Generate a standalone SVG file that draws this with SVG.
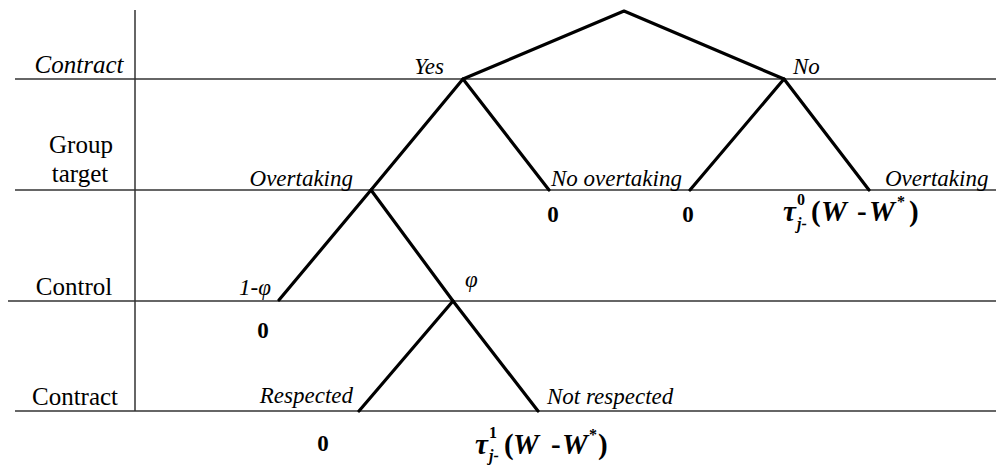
<svg xmlns="http://www.w3.org/2000/svg" width="996" height="465" viewBox="0 0 996 465" font-family="Liberation Serif, serif" style="font-family:'Liberation Serif',serif">
<rect width="996" height="465" fill="#fff"/>
<g id="grid" stroke="#333" stroke-width="1.5" fill="none">
<line x1="135" y1="10" x2="135" y2="411"/>
<line x1="15" y1="79" x2="996" y2="79"/>
<line x1="15" y1="190" x2="996" y2="190"/>
<line x1="8" y1="301" x2="996" y2="301"/>
<line x1="15" y1="411" x2="996" y2="411"/>
</g>
<g id="row-labels">
<text style="font-family:'Liberation Serif',serif !important" font-style="italic" font-size="25" text-anchor="middle" x="79" y="73">Contract</text>
<text style="font-family:'Liberation Serif',serif !important" font-size="25" text-anchor="middle" x="81" y="153">Group</text>
<text style="font-family:'Liberation Serif',serif !important" font-size="25" text-anchor="middle" x="80" y="182">target</text>
<text style="font-family:'Liberation Serif',serif !important" font-size="25" text-anchor="middle" x="74" y="295">Control</text>
<text style="font-family:'Liberation Serif',serif !important" font-size="25" text-anchor="middle" x="75" y="405">Contract</text>
</g>
<g id="node-yes"><text style="font-family:'Liberation Serif',serif !important" font-style="italic" font-size="23" text-anchor="end" x="444" y="74">Yes</text></g>
<g id="node-no"><text style="font-family:'Liberation Serif',serif !important" font-style="italic" font-size="23" x="793" y="74">No</text></g>
<g id="node-overtaking-yes"><text style="font-family:'Liberation Serif',serif !important" font-style="italic" font-size="23" text-anchor="end" x="353" y="186">Overtaking</text></g>
<g id="node-no-overtaking">
<text style="font-family:'Liberation Serif',serif !important" font-style="italic" font-size="23" x="551" y="186">No overtaking</text>
<text style="font-family:'Liberation Serif',serif !important" font-weight="bold" font-size="23" text-anchor="middle" x="553" y="222">0</text>
</g>
<g id="node-no-no-overtaking"><text style="font-family:'Liberation Serif',serif !important" font-weight="bold" font-size="23" text-anchor="middle" x="688" y="222">0</text></g>
<g id="node-overtaking-no">
<text style="font-family:'Liberation Serif',serif !important" font-style="italic" font-size="23" x="885" y="186">Overtaking</text>
<text style="font-family:'Liberation Serif',serif !important" font-weight="bold" font-size="29" y="221"><tspan x="783" font-style="italic">τ</tspan><tspan font-size="16" x="797" y="205">0</tspan><tspan font-size="16" x="797" y="229" font-style="italic">j-</tspan><tspan x="811" y="221">(</tspan><tspan x="821" font-style="italic">W</tspan><tspan x="857">-</tspan><tspan x="869" font-style="italic">W</tspan><tspan font-size="16" x="897" y="207">*</tspan><tspan x="909" y="221">)</tspan></text>
</g>
<g id="node-1-phi">
<text style="font-family:'Liberation Serif',serif !important" font-style="italic" font-size="23" text-anchor="end" x="271" y="295">1-φ</text>
<text style="font-family:'Liberation Serif',serif !important" font-weight="bold" font-size="23" text-anchor="middle" x="263" y="338">0</text>
</g>
<g id="node-phi"><text style="font-family:'Liberation Serif',serif !important" font-style="italic" font-size="23" x="465" y="287">φ</text></g>
<g id="node-respected">
<text style="font-family:'Liberation Serif',serif !important" font-style="italic" font-size="23" text-anchor="end" x="353" y="403">Respected</text>
<text style="font-family:'Liberation Serif',serif !important" font-weight="bold" font-size="23" text-anchor="middle" x="323" y="451">0</text>
</g>
<g id="node-not-respected">
<text style="font-family:'Liberation Serif',serif !important" font-style="italic" font-size="23" x="547" y="404">Not respected</text>
<text style="font-family:'Liberation Serif',serif !important" font-weight="bold" font-size="29" y="454"><tspan x="475" font-style="italic">τ</tspan><tspan font-size="16" x="489" y="438">1</tspan><tspan font-size="16" x="489" y="461" font-style="italic">j-</tspan><tspan x="504" y="454">(</tspan><tspan x="513" font-style="italic">W</tspan><tspan x="551">-</tspan><tspan x="562" font-style="italic">W</tspan><tspan font-size="16" x="589" y="440">*</tspan><tspan x="598" y="454">)</tspan></text>
</g>
<g id="connectors" stroke="#000" stroke-width="3.2" fill="none" stroke-linecap="round" stroke-linejoin="round">
<polyline points="463,79 624,11 784,79"/>
<polyline points="371,190 463,79 549,190"/>
<polyline points="690,190 784,79 869,190"/>
<polyline points="279,300 371,190 453,301"/>
<polyline points="359,411 453,301 538,411"/>
</g>
</svg>
